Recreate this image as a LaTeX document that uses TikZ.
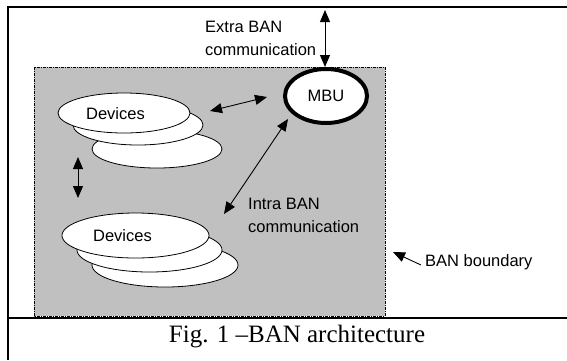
\documentclass[tikz,border=0pt]{standalone}
\usepackage{fontspec}
\setmainfont{Liberation Serif}
\newfontfamily\labelfont{Liberation Sans}
\usetikzlibrary{arrows.meta,shapes.geometric}
\definecolor{bangray}{HTML}{C0C0C0}
\begin{document}
\begin{tikzpicture}[x=1pt,y=-1pt,
  lblfont/.style={font=\labelfont\fontsize{16.5}{23}\selectfont},
  lbl/.style={lblfont, inner sep=0pt, align=left, anchor=west},
  link/.style={line width=0.9pt, {Triangle[length=12pt,width=10pt]}-{Triangle[length=12pt,width=10pt]}},
  single/.style={line width=0.9pt, -{Triangle[length=12pt,width=10pt]}},
  dev/.style={ellipse, draw, fill=white, line width=0.8pt, inner sep=0pt},
  boundary/.style={draw=black, fill=bangray, line width=1pt, dash pattern=on 3pt off 1pt on 1pt off 1pt},
  frame/.style={line width=1.4pt}]
\useasboundingbox (0,0) rectangle (567,360);

% outer frame and caption rule
\draw[frame] (8,360) -- (8,7) -- (567,7);
\draw[frame] (8,318) -- (567,318);
\node[font=\fontsize{25}{30}\selectfont, inner sep=0pt] (cap) at (297,337) {Fig. 1 –BAN architecture};

% BAN boundary area
\path[boundary] (34,67) rectangle (385,316);

% MBU
\node[ellipse, draw, fill=white, line width=4pt, minimum width=82pt, minimum height=54pt, inner sep=0pt,
      lblfont] (mbu) at (326,96) {MBU};

% upper device stack (back to front)
\node[dev, minimum width=130pt, minimum height=38pt] (d1c) at (157,149) {};
\node[dev, minimum width=130pt, minimum height=40pt] (d1b) at (138,125) {};
\node[dev, minimum width=132pt, minimum height=40pt] (d1) at (124,113) {};
\node[lblfont, inner sep=0pt] (d1t) at (115.5,114) {Devices};

% lower device stack (back to front)
\node[dev, minimum width=146pt, minimum height=44pt] (d2c) at (165,265) {};
\node[dev, minimum width=145pt, minimum height=44pt] (d2b) at (149.5,250) {};
\node[dev, minimum width=147pt, minimum height=45pt] (d2) at (135.5,235.5) {};
\node[lblfont, inner sep=0pt] (d2t) at (122.5,236) {Devices};

% labels
\node[lbl] (extra) at (205,38) {Extra BAN\\communication};
\node[lbl] (intra) at (248,215) {Intra BAN\\communication};
\node[lbl] (bnd) at (425,262) {BAN boundary};

% connectors
\coordinate (ext) at (325,10);
\draw[link] (ext) -- (mbu.north -| ext);
\coordinate (d1r) at (210,111);
\coordinate (mbul) at (267,97);
\draw[link] (d1r) -- (mbul);
\coordinate (vtop) at (78,157);
\coordinate (vbot) at (78,198);
\draw[link] (vtop) -- (vbot);
\coordinate (ia) at (288,119);
\coordinate (ib) at (224,214);
\draw[link] (ia) -- (ib);
\coordinate (bt) at (393,252);
\coordinate (bs) at (421,265);
\draw[single] (bs) -- (bt);
\end{tikzpicture}
\end{document}
